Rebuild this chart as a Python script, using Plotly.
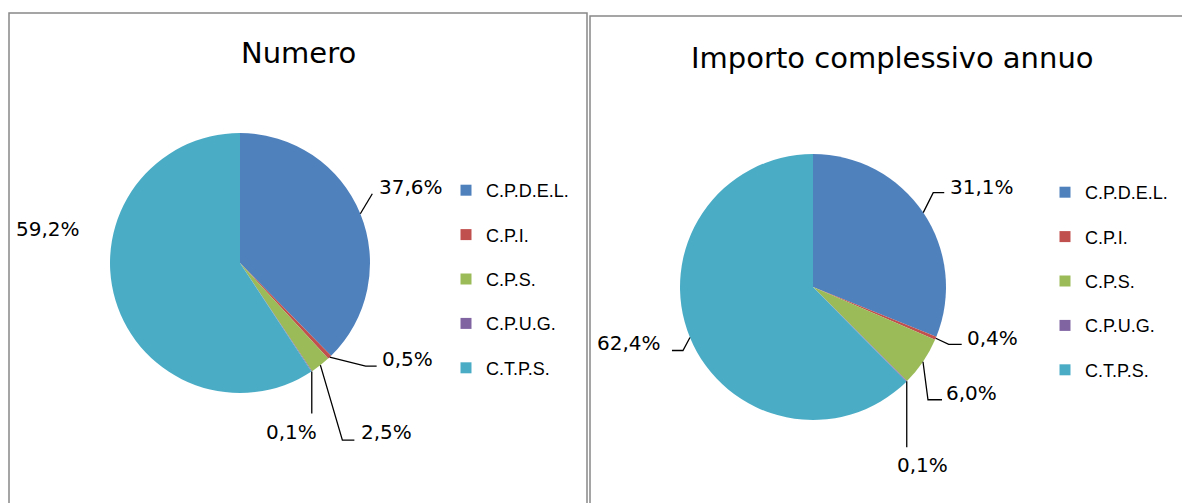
import math
import plotly.graph_objects as go

W, H = 1182, 503

# ---------------- data ----------------
categories = ["C.P.D.E.L.", "C.P.I.", "C.P.S.", "C.P.U.G.", "C.T.P.S."]
numero_values = [37.6, 0.5, 2.5, 0.1, 59.2]
importo_values = [31.1, 0.4, 6.0, 0.1, 62.4]
numero_labels = ["37,6%", "0,5%", "2,5%", "0,1%", "59,2%"]
importo_labels = ["31,1%", "0,4%", "6,0%", "0,1%", "62,4%"]
titles = ["Numero", "Importo complessivo annuo"]

# ---------------- style ----------------
colors = ["#4F81BD", "#C0504D", "#9BBB59", "#8064A2", "#4BACC6"]
LABEL_FONT = dict(family="DejaVu Sans, Verdana, sans-serif", size=20, color="black")
TITLE_FONT = dict(family="DejaVu Sans, Verdana, sans-serif", size=29, color="black")
LEGEND_FONT = dict(family="Liberation Sans, Arial, sans-serif", size=18, color="black")

# pie geometry in pixels: center, radius
pie_geom = [((240, 263), 130), ((813, 287), 133)]
# leader lines: points relative to slice anchor; label position relative to anchor, xanchor
leaders = [
    [
        ([(0, 0), (12, -20)], (17, -27), "left"),
        ([(0, 0), (36, 9), (47, 9)], (50, 2), "left"),
        ([(0, 0), (22, 75), (34, 75)], (39, 67), "left"),
        ([(0, 0), (0, 42)], (-20, 61), "center"),
        ([], (-33, -71), "right"),
    ],
    [
        ([(0, 0), (10, -20), (21, -20)], (25, -26), "left"),
        ([(0, 0), (13, 6), (26, 6)], (29, 0), "left"),
        ([(0, 0), (5, 38), (19, 38)], (21, 31), "left"),
        ([(0, 0), (0, 66)], (16, 84), "center"),
        ([(0, 0), (-7, 13), (-18, 13)], (-27, 5), "right"),
    ],
]
title_pos = [(298, 53), (893, 58)]
legend_pos = [(446, 172), (1045, 174)]
panels = [(9, 13, 587, H + 5), (590, 16, W + 5, H + 5)]


def px(x, y):
    return x / W, 1 - y / H


fig = go.Figure()
shapes = []
annotations = []

for k, (values, labels) in enumerate([(numero_values, numero_labels), (importo_values, importo_labels)]):
    (cx, cy), r = pie_geom[k]
    x0, y0 = px(cx - r, cy + r)
    x1, y1 = px(cx + r, cy - r)
    fig.add_trace(go.Pie(
        labels=categories, values=values, sort=False, direction="clockwise", rotation=0,
        marker=dict(colors=colors, line=dict(width=0)),
        textinfo="none", hoverinfo="label+percent", showlegend=False,
        domain=dict(x=[x0, x1], y=[y0, y1]),
    ))
    total = sum(values)
    cum = 0
    for i, v in enumerate(values):
        mid = (cum + v / 2) / total * 2 * math.pi
        cum += v
        ax, ay = cx + r * math.sin(mid), cy - r * math.cos(mid)
        pts, (lx, ly), xa = leaders[k][i]
        if pts:
            path = ""
            for j, (dx, dy) in enumerate(pts):
                qx, qy = px(ax + dx, ay + dy)
                path += ("M" if j == 0 else " L") + f" {qx:.5f},{qy:.5f}"
            shapes.append(dict(type="path", xref="paper", yref="paper", path=path,
                               line=dict(color="black", width=1.3)))
        tx, ty = px(ax + lx, ay + ly)
        annotations.append(dict(x=tx, y=ty, xref="paper", yref="paper", text=labels[i],
                                showarrow=False, xanchor=xa, yanchor="middle", font=LABEL_FONT))
    # legend entries
    for i, c in enumerate(categories):
        fig.add_trace(go.Scatter(
            x=[None], y=[None], mode="markers", name=c,
            marker=dict(symbol="square", size=11, color=colors[i]),
            legend="legend" if k == 0 else "legend2",
            legendgroup=f"g{k}_{i}", showlegend=True, hoverinfo="skip",
        ))
    tx, ty = px(*title_pos[k])
    annotations.append(dict(x=tx, y=ty, xref="paper", yref="paper", text=titles[k],
                            showarrow=False, xanchor="center", yanchor="middle", font=TITLE_FONT))

for (a, b, c, d) in panels:
    xa, ya = px(a, b)
    xb, yb = px(c, d)
    shapes.append(dict(type="rect", xref="paper", yref="paper", x0=xa, y0=yb, x1=xb, y1=ya,
                       line=dict(color="#888888", width=1.5), fillcolor="rgba(0,0,0,0)", layer="below"))


def legend_cfg(pos):
    lx, ly = px(*pos)
    return dict(x=lx, y=ly, xanchor="left", yanchor="top", font=LEGEND_FONT,
                traceorder="grouped", tracegroupgap=18.0, bgcolor="rgba(0,0,0,0)",
                borderwidth=0, itemclick=False, itemdoubleclick=False)


fig.update_layout(
    width=W, height=H, margin=dict(l=0, r=0, t=0, b=0),
    paper_bgcolor="white", plot_bgcolor="white",
    xaxis=dict(visible=False), yaxis=dict(visible=False),
    shapes=shapes, annotations=annotations,
    legend=legend_cfg(legend_pos[0]),
    legend2=legend_cfg(legend_pos[1]),
    showlegend=True,
)

fig.write_html("out.html", config={"displayModeBar": False},
               post_script="document.body.style.margin='0';")
